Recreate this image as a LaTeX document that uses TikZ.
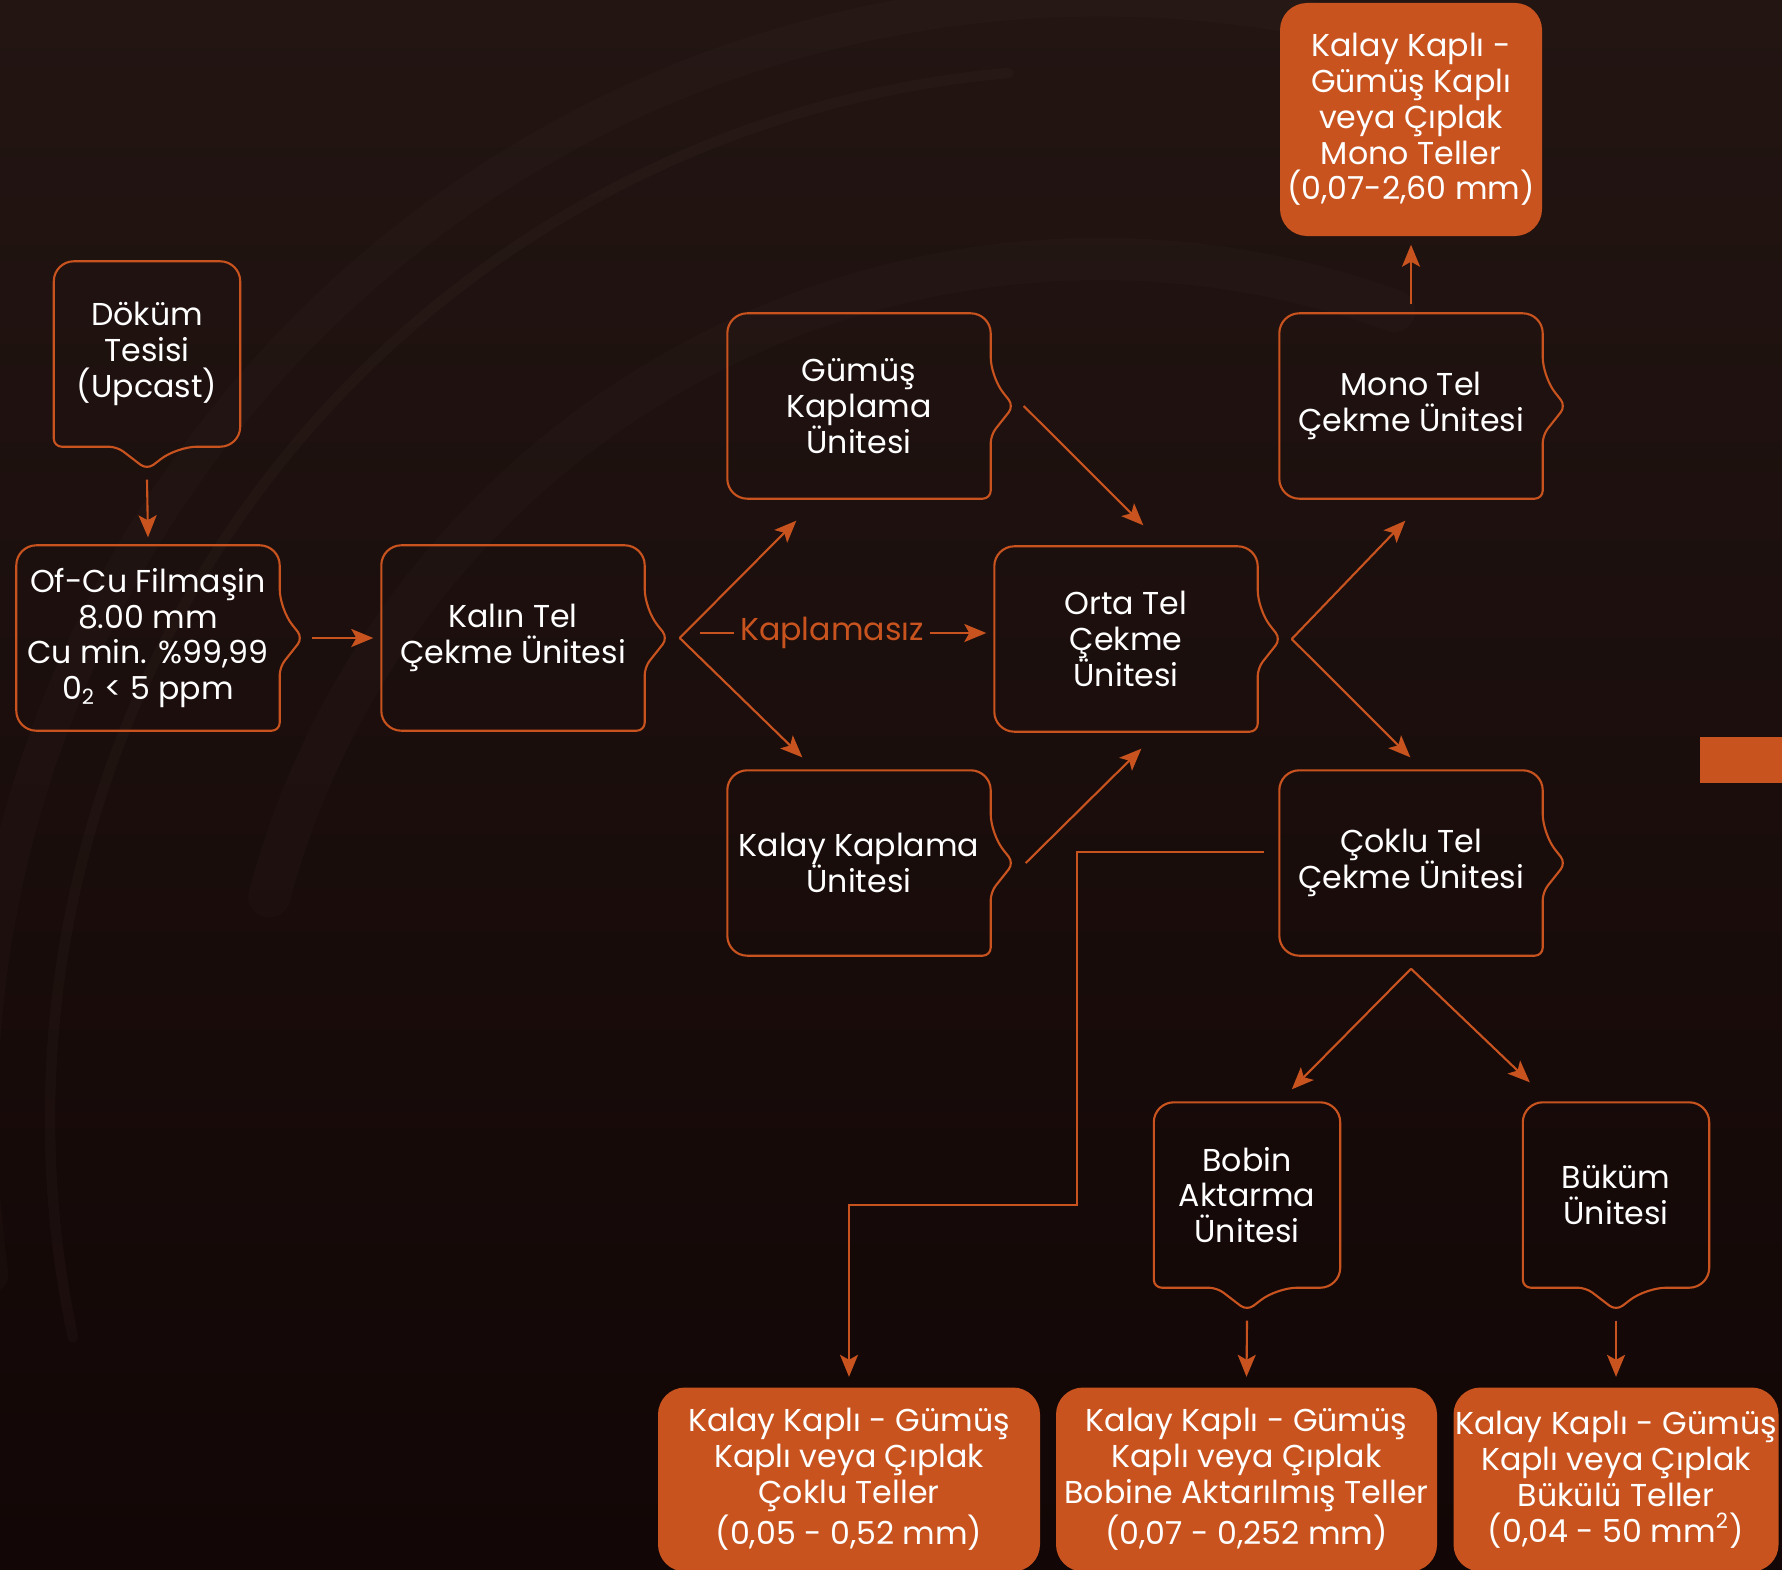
\documentclass[tikz,border=0pt]{standalone}
\usepackage{fontspec}
\setmainfont{Poppins}
\usepackage{tikz}
\usetikzlibrary{arrows.meta,positioning,calc}

\definecolor{copper}{HTML}{C8531F}
\definecolor{bgtop}{HTML}{221512}
\definecolor{bgbot}{HTML}{120606}
\definecolor{streak}{HTML}{6A5A50}

% outline of a stage box with its pointer on the right / at the bottom
\newcommand{\rimright}[1]{%
  \draw[rim] (#1.north) [rounded corners=2mm] -- (#1.north east) -- ([yshift=2.9mm]#1.east)
    [rounded corners=0.8mm] -- ([xshift=2.3mm]#1.east) -- ([yshift=-2.9mm]#1.east) -- (#1.south east)
    [rounded corners=2mm] -- (#1.south west) -- (#1.north west) -- cycle;}
\newcommand{\rimbottom}[1]{%
  \draw[rim] (#1.east) [rounded corners=2mm] -- (#1.south east) -- ([xshift=3mm]#1.south)
    [rounded corners=0.8mm] -- ([yshift=-2.3mm]#1.south) -- ([xshift=-3mm]#1.south) -- (#1.south west)
    [rounded corners=2mm] -- (#1.north west) -- (#1.north east) -- cycle;}

\begin{document}
\begin{tikzpicture}[
  font=\fontsize{9}{10.2}\selectfont,
  stage/.style={rectangle, align=center, text=white, inner sep=1pt, minimum width=2.62cm, minimum height=1.84cm},
  stagesm/.style={stage, minimum width=1.85cm},
  product/.style={stage, fill=copper, rounded corners=2.7mm, inner sep=0.5pt},
  rim/.style={draw=copper, line width=0.6pt},
  arr/.style={-{Stealth[length=2.2mm, width=1.8mm, inset=0.5mm]}, draw=copper, line width=0.6pt},
  lab/.style={text=copper, inner sep=1.5pt},
  glint/.style={streak, line cap=round}
]
\useasboundingbox (0,0) rectangle (17.82,15.69);
\shade[top color=bgtop, bottom color=bgbot] (0,0) rectangle (17.82,15.69);
% faint coil streaks in the background
\draw[glint, line width=10pt, opacity=0.05] ([shift={(188:11.2)}]11,4.5) arc[start angle=188, end angle=75, radius=11.2];
\draw[glint, line width=3pt, opacity=0.07] ([shift={(192:10.5)}]11,4.5) arc[start angle=192, end angle=95, radius=10.5];
\draw[glint, line width=12pt, opacity=0.05] ([shift={(165:8.6)}]11,4.5) arc[start angle=165, end angle=70, radius=8.6];
\fill[copper] (17.00,7.86) rectangle (17.82,8.32);

\node[stagesm] (dokum) at (1.47,12.15) {Döküm\\Tesisi\\(Upcast)};
\node[stage] (filmasin) at (1.48,9.31) {Of-Cu Filmaşin\\8.00 mm\\Cu min. \%99,99\\0\textsubscript{2} < 5 ppm};
\node[stage] (kalin) at (5.13,9.31) {Kalın Tel\\Çekme Ünitesi};
\node[stage] (gumus) at (8.59,11.63) {Gümüş\\Kaplama\\Ünitesi};
\node[stage] (kalay) at (8.59,7.06) {Kalay Kaplama\\Ünitesi};
\node[stage] (orta) at (11.26,9.30) {Orta Tel\\Çekme\\Ünitesi};
\node[stage] (mono) at (14.11,11.63) {Mono Tel\\Çekme Ünitesi};
\node[stage] (coklu) at (14.11,7.06) {Çoklu Tel\\Çekme Ünitesi};
\node[stagesm] (bobin) at (12.47,3.74) {Bobin\\Aktarma\\Ünitesi};
\node[stagesm] (bukum) at (16.16,3.74) {Büküm\\Ünitesi};

\node[product, minimum height=2.33cm] (outmono) at (14.11,14.495) {Kalay Kaplı -\\Gümüş Kaplı\\veya Çıplak\\Mono Teller\\(0,07-2,60 mm)};
\node[product, minimum width=3.82cm] (outcoklu) at (8.49,0.895) {Kalay Kaplı - Gümüş\\Kaplı veya Çıplak\\Çoklu Teller\\(0,05 - 0,52 mm)};
\node[product, minimum width=3.81cm] (outbobin) at (12.465,0.895) {Kalay Kaplı - Gümüş\\Kaplı veya Çıplak\\Bobine Aktarılmış Teller\\(0,07 - 0,252 mm)};
\node[product, minimum width=3.20cm] (outbukum) at (16.16,0.895) {Kalay Kaplı - Gümüş\\Kaplı veya Çıplak\\Bükülü Teller\\(0,04 - 50 mm\textsuperscript{2})};

\rimbottom{dokum}
\rimright{filmasin}
\rimright{kalin}
\rimright{gumus}
\rimright{kalay}
\rimright{orta}
\rimright{mono}
\rimright{coklu}
\rimbottom{bobin}
\rimbottom{bukum}

\draw[arr] ([yshift=-3.3mm]dokum.south) -- ([yshift=0.8mm]filmasin.north);
\draw[arr] ([xshift=3.2mm]filmasin.east) -- ([xshift=-0.8mm]kalin.west);

\coordinate (kfork) at ([xshift=3.5mm]kalin.east);
\draw[arr] (kfork) -- ([shift={(0.69,-0.22)}]gumus.south west);
\draw[arr] (kfork) -- ([shift={(0.75,0.13)}]kalay.north west);
\node[lab] (kaplamasiz) at (8.32,9.36) {Kaplamasız};
\draw[rim] ($(kfork |- kaplamasiz)+(0.2,0)$) -- (kaplamasiz.west);
\draw[arr] (kaplamasiz.east) -- ($(kaplamasiz.east -| orta.west)+(-0.08,0)$);

\draw[arr] ([xshift=3.3mm]gumus.east) -- ([shift={(1.49,0.21)}]orta.north west);
\draw[arr] ([xshift=3.5mm]kalay.east) -- ([shift={(1.47,-0.17)}]orta.south west);

\coordinate (ofork) at ([xshift=3.4mm]orta.east);
\draw[arr] (ofork) -- ([shift={(1.26,-0.22)}]mono.south west);
\draw[arr] (ofork) -- ([shift={(1.31,0.13)}]coklu.north west);
\draw[arr] ([yshift=0.9mm]mono.north) -- ([yshift=-0.8mm]outmono.south);

\coordinate (bend) at (10.77,3.64);
\draw[arr] ([shift={(-0.15,0.11)}]coklu.west) -| (bend) -| ([yshift=1mm]outcoklu.north);

\coordinate (cfork) at ([yshift=-1.3mm]coklu.south);
\draw[arr] (cfork) -- ([shift={(1.38,0.13)}]bobin.north west);
\draw[arr] (cfork) -- ([shift={(0.07,0.20)}]bukum.north west);
\draw[arr] ([yshift=-3.3mm]bobin.south) -- ([yshift=1mm]outbobin.north);
\draw[arr] ([yshift=-3.3mm]bukum.south) -- ([yshift=1mm]outbukum.north);
\end{tikzpicture}
\end{document}
